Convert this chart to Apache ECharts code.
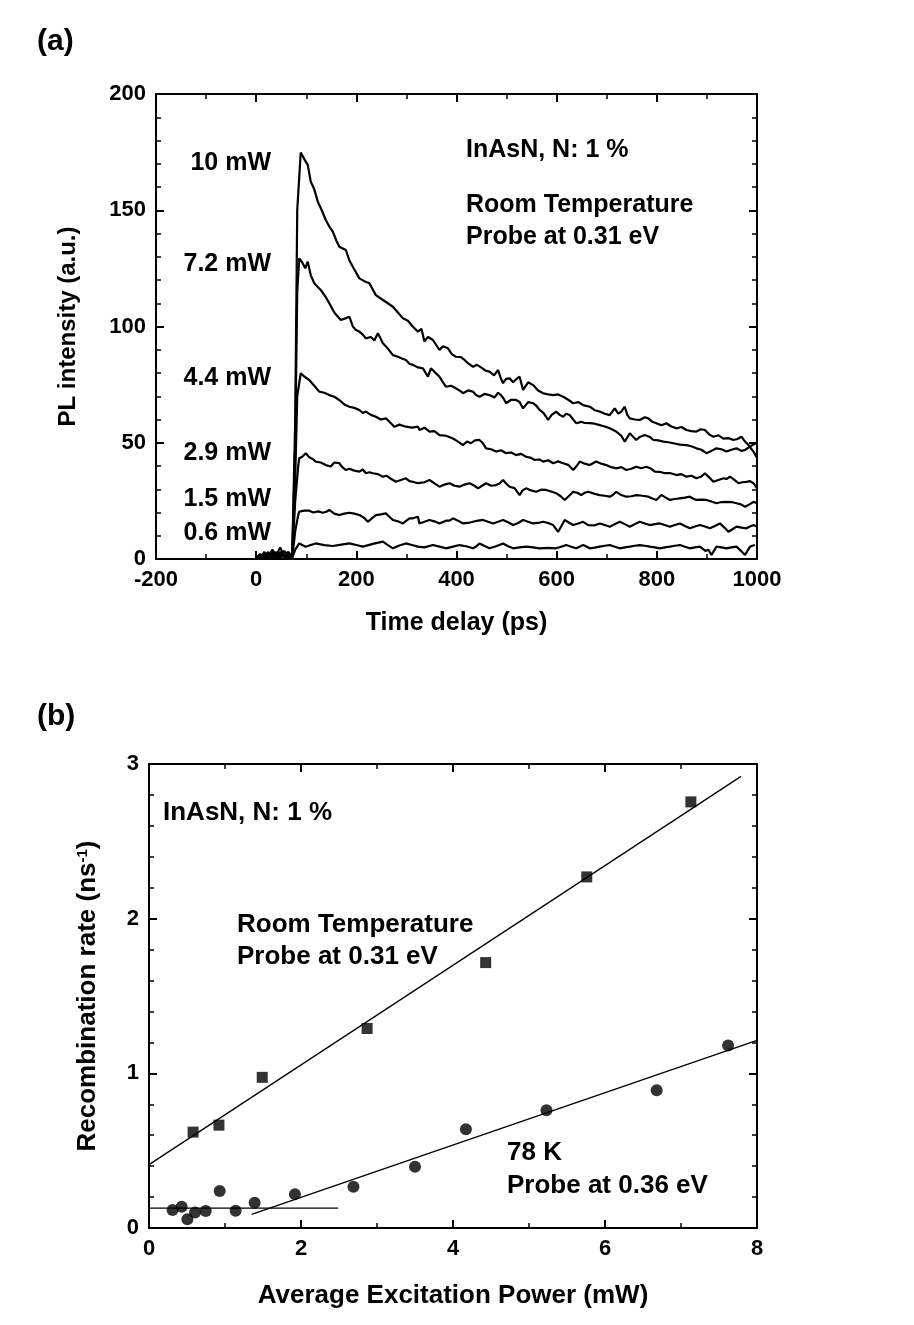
<!DOCTYPE html>
<html>
<head>
<meta charset="utf-8">
<script src="https://cdn.jsdelivr.net/npm/echarts@6/dist/echarts.min.js"></script>
<style>
html,body{margin:0;padding:0;background:#fff;}
#chart{width:914px;height:1325px;}
</style>
</head>
<body>
<div id="chart"></div>
<script>
// ---------- Panel (a): PL transients, [time delay (ps), PL intensity (a.u.)] ----------
const curveLabels = ['10 mW', '7.2 mW', '4.4 mW', '2.9 mW', '1.5 mW', '0.6 mW'];

const pl10 = [[0,0.5],[8,2],[16,1],[24,3],[32,0.5],[40,2.5],[48,1],[56,3.5],[64,1.5],[72,2],[78,60],[82,150],[89,174.8],[96,172],[103,169.5],[109,162.3],[116,159],[123,153.7],[131,150],[139,145.8],[146,143],[153,140.8],[160,137],[166,134.3],[179,132.9],[186,128.5],[193,125.7],[206,120.7],[216,119.5],[226,118.6],[239,113.5],[253,111.4],[263,110],[273,108.5],[283,106],[293,103.5],[303,102.5],[313,99.9],[323,97.8],[330,99],[336,93.5],[343,95.5],[353,94.2],[366,89.9],[373,91.5],[383,90.6],[391,88],[399,87],[409,86.8],[416,85.6],[424,84],[433,82.7],[441,83.5],[449,82.4],[458,81],[466,80.6],[475,79],[483,81.3],[488,78],[493,75.6],[499,77.5],[506,77.7],[513,76],[520,77.5],[526,78.4],[533,72.7],[543,76],[553,74.8],[563,72.5],[573,71.3],[583,70.8],[593,70.5],[603,70.8],[613,69.8],[623,68.5],[633,67],[643,67.5],[653,66.2],[666,65.5],[676,64],[686,63.4],[696,62.5],[706,61.9],[716,64.8],[723,62.5],[729,63.4],[736,65.5],[741,62],[746,60.5],[756,60],[766,59.8],[776,61],[783,60.5],[791,59],[799,58.4],[809,57.5],[819,58.4],[829,57],[839,56.2],[849,56.8],[859,55.5],[869,55],[879,54.8],[888,55.8],[896,55.5],[905,53.5],[913,52.6],[923,53.2],[933,51.8],[943,52],[953,51.2],[961,51.6],[969,52.6],[976,50.5],[983,49],[993,46.2],[1000,43.5]];

const pl72 = [[0,1],[8,0.5],[16,2.5],[24,1],[32,3],[40,0.5],[48,2],[56,1],[64,3],[72,1],[78,50],[82,115],[86,129.3],[93,127.2],[98,125],[103,127.9],[109,122],[116,118.6],[123,117],[129,115.7],[138,113],[146,110],[156,106],[162,104.5],[169,102.8],[178,103.5],[186,104.2],[193,100],[199,98.5],[206,97.8],[213,96.5],[219,94.9],[229,95.5],[236,94],[243,97.1],[248,95],[253,92.8],[263,90.5],[273,87.7],[283,87],[291,86.2],[299,85.6],[306,84],[313,83.5],[323,82.4],[333,82],[343,78.4],[349,82],[356,80.5],[366,78.4],[373,76],[379,74.1],[389,74.5],[399,73.4],[406,72.5],[413,71.3],[423,72.5],[433,72],[439,70.5],[446,69.8],[456,71],[466,70.5],[476,69.5],[483,71.5],[489,70.5],[494,69],[499,67],[509,68.5],[519,68.4],[526,67.5],[533,64.8],[543,67.5],[553,67],[559,66],[566,64.1],[573,63],[578,61.5],[583,59.8],[590,62],[599,63.4],[606,62],[613,61.2],[619,62.5],[626,61.9],[633,60],[639,58.4],[649,59],[656,58.5],[666,58.4],[676,58.2],[686,57.6],[696,57],[706,56.2],[713,55.5],[719,54.8],[729,53],[736,50.5],[746,54.1],[753,52.5],[759,51.2],[766,52.5],[776,53.3],[786,52.5],[793,51.2],[803,51],[813,50.5],[823,50.2],[833,49.8],[846,49.2],[859,49],[869,48.5],[879,47.6],[889,47],[899,45.5],[909,46.5],[919,47.6],[929,47.2],[939,46.2],[949,47],[959,47.6],[969,46.5],[976,46.9],[986,48.3],[993,49.3],[1000,50]];

const pl44 = [[0,0.5],[8,1.5],[16,0.5],[24,2],[32,1],[40,3],[48,0.5],[56,2],[64,1],[72,1.5],[78,35],[82,70],[89,79.9],[96,78.5],[106,77],[116,74.5],[126,72],[136,71.5],[146,70.5],[156,69.8],[166,68.4],[176,66.5],[186,65.5],[196,65],[206,64.1],[213,62.8],[219,63.4],[229,62],[239,61.2],[249,60],[259,60.5],[266,59],[276,56.9],[286,57.8],[299,56.9],[311,56.5],[323,56.9],[326,55.5],[336,56.5],[346,54.8],[356,55],[366,53.3],[379,53],[393,51.8],[403,50.5],[413,49],[421,50.5],[429,49.8],[437,51],[446,51.2],[452,50],[459,47.6],[469,47.2],[479,46.2],[489,46.8],[499,45.5],[509,45.8],[519,44.7],[529,45.2],[539,44],[549,43.5],[556,42.6],[566,42.8],[573,41.9],[583,42.5],[593,41.2],[603,42],[613,41.2],[623,40.5],[633,38.3],[640,40],[646,41.9],[656,41],[666,40.4],[679,41.9],[689,41],[699,40.4],[709,39.5],[719,39],[729,39.5],[739,38.3],[749,38.8],[759,39.7],[769,39],[779,39.7],[789,38.8],[796,37.6],[806,37.5],[816,36.9],[826,37],[839,36.1],[849,36.5],[859,35.4],[869,35.8],[879,34.7],[889,35.5],[896,36.9],[905,35],[913,33.2],[923,34],[933,34.7],[940,34.5],[946,35.4],[955,34],[963,32.6],[971,33],[979,33.2],[986,33.5],[993,32.6],[1000,30.4]];

const pl29 = [[0,1],[8,0.5],[16,2],[24,0.5],[32,1.5],[40,0.5],[48,3],[56,1],[64,0.5],[72,1],[78,25],[84,40],[86,43.3],[92,44],[99,45.5],[106,43.8],[113,43],[119,41.9],[129,41.5],[139,40.4],[149,39.8],[156,41.5],[166,41.2],[172,39.5],[179,38.3],[186,38.8],[196,38],[206,37.6],[213,38.5],[219,36.9],[226,37.3],[233,36.9],[243,36.5],[253,35.4],[261,35.8],[269,34.5],[279,33.2],[289,34],[299,34.7],[306,33.5],[313,33.2],[323,32.6],[336,33],[346,34],[356,32.5],[366,31.1],[376,32],[386,32.6],[396,31.5],[406,31.1],[416,32],[426,32.6],[436,31.5],[443,30.4],[451,31.5],[459,32.6],[469,31.5],[479,31.8],[486,32.5],[493,34],[499,32.5],[506,31.1],[516,30.5],[521,29],[526,27.5],[532,29.5],[539,30.4],[549,29.5],[559,28.9],[569,29.8],[579,29.7],[589,29],[599,28.3],[608,27],[616,25.4],[624,27],[633,28.9],[641,28.5],[649,27.5],[656,28.5],[663,28.9],[666,28.3],[676,28],[686,27.5],[696,27.2],[706,26.8],[712,27.5],[719,28.9],[729,27.5],[739,26.8],[749,27],[759,27.5],[771,27.2],[783,26.8],[791,26],[799,25.4],[809,27.5],[817,26.5],[826,25.4],[836,25.8],[846,26.1],[856,26.4],[866,26.8],[872,26],[879,25.4],[889,25.5],[899,25.4],[909,24.7],[919,24],[929,24.5],[939,24.6],[949,24.5],[959,24],[968,23.5],[976,22.5],[985,23.5],[993,24.6],[1000,24]];

const pl15 = [[0,0.5],[8,2],[16,1],[24,0.5],[32,2.5],[40,1],[48,0.5],[56,2],[64,1],[72,0.5],[78,12],[84,19],[86,20.4],[96,20.8],[106,20.8],[114,20],[124,20.5],[133,19.9],[140,20.3],[146,21.1],[156,19.5],[166,18.9],[176,19.5],[186,19.9],[196,19.5],[206,18.9],[215,17.8],[223,16],[231,17.5],[239,18.9],[249,19.2],[259,19.6],[266,18.2],[273,16.8],[283,16.2],[293,15.3],[300,16.5],[306,17.5],[313,17.5],[323,18.2],[326,15.3],[336,16],[346,16.8],[356,16.2],[366,15.3],[379,16.5],[386,16.5],[393,17.5],[403,16.5],[413,15.3],[423,15.5],[433,16],[443,16.5],[453,16.8],[463,16],[473,15.3],[483,16],[493,16.8],[503,15.8],[513,14.6],[523,15.5],[533,16.8],[543,16],[553,15.3],[563,15.5],[573,16],[583,15.5],[593,14.6],[603,11.7],[609,14],[616,16.8],[624,15.7],[633,14.6],[643,15.3],[653,16],[663,14.6],[666,13.9],[676,14.5],[686,15.3],[696,14.6],[706,13.9],[716,15],[726,16],[736,15],[746,13.9],[756,15],[766,16],[776,15.3],[786,14.6],[796,15],[806,15.3],[816,14.6],[826,13.9],[836,14.6],[846,15.3],[856,14.2],[866,13.2],[876,14],[886,14.6],[896,14],[906,13.2],[916,14.2],[926,15.3],[935,13.5],[943,11.7],[951,12.8],[959,13.9],[969,13.5],[979,13.2],[986,14],[993,14.6],[1000,13.9]];

const pl06 = [[0,1.5],[8,0.5],[16,3],[24,1],[32,4],[40,1.5],[48,5],[56,1],[64,3],[72,0.5],[78,4],[86,6.7],[92,6],[99,5.3],[109,6],[119,6.7],[136,6],[153,5.6],[170,6.2],[186,6.7],[200,6],[213,5.3],[233,6.5],[253,7.5],[263,6],[273,4.6],[286,5.8],[299,6.7],[311,6],[323,5.3],[336,5],[353,6],[366,5.3],[379,4.6],[393,5.3],[406,6],[419,5.5],[433,4.6],[440,5.5],[446,6.7],[456,5.6],[466,4.6],[479,5.5],[493,6.7],[503,5.5],[513,4.6],[526,5],[539,5.3],[553,5],[566,4.6],[583,4.8],[599,4.6],[609,5.3],[619,6],[629,5.3],[639,4.6],[653,6],[666,4.6],[676,4.9],[686,5.3],[696,5.7],[706,6],[716,5.3],[726,4.6],[736,5],[746,5.3],[756,5.7],[766,6],[776,5.7],[786,5.3],[796,5],[806,4.6],[816,5],[826,5.3],[836,5.7],[846,6],[856,5.3],[866,4.6],[876,5],[886,5.3],[897,3.5],[903,4],[909,1.7],[914,3.5],[919,5.3],[929,5],[939,4.6],[949,5],[959,5.3],[968,3.5],[976,1.7],[981,3.5],[986,5.3],[991,5.7],[996,6]];

const plCurves = [pl10, pl72, pl44, pl29, pl15, pl06];

// ---------- Panel (b): recombination rate vs power ----------
const rtPower = [0.58, 0.92, 1.49, 2.87, 4.43, 5.76, 7.13];
const rtRate  = [0.62, 0.665, 0.974, 1.29, 1.716, 2.27, 2.755];
const k78Power = [0.31, 0.43, 0.505, 0.606, 0.747, 0.93, 1.14, 1.39, 1.92, 2.69, 3.50, 4.17, 5.23, 6.68, 7.62];
const k78Rate  = [0.116, 0.137, 0.056, 0.10, 0.11, 0.239, 0.112, 0.163, 0.219, 0.267, 0.396, 0.639, 0.761, 0.89, 1.18];
const rtFit = [[0, 0.41], [7.79, 2.92]];
const k78FitLow = [[0, 0.129], [2.49, 0.129]];
const k78FitHigh = [[1.35, 0.088], [8, 1.213]];

// tick settings
const aXTicks = {min: -200, max: 1000, interval: 200};
const aYTicks = {min: 0, max: 200, interval: 50};
const bXTicks = {min: 0, max: 8, interval: 2};
const bYTicks = {min: 0, max: 3, interval: 1};

const FONT = '"Liberation Sans", Arial, Helvetica, sans-serif';
const chart = echarts.init(document.getElementById('chart'), null, {renderer: 'canvas'});

function axisBase(t, minorSplit, showLabel, pos, grid) {
  return {
    type: 'value', gridIndex: grid, position: pos,
    min: t.min, max: t.max, interval: t.interval,
    axisLine: {show: true, onZero: false, lineStyle: {color: '#000', width: 2}},
    axisTick: {show: true, inside: true, length: 8, lineStyle: {color: '#000', width: 2}},
    minorTick: {show: true, splitNumber: minorSplit, length: 5, lineStyle: {color: '#000', width: 1.5}},
    splitLine: {show: false},
    axisLabel: {show: showLabel, color: '#000', fontFamily: FONT, fontWeight: 'bold', fontSize: 22, margin: 10,
                formatter: v => String(v)},
  };
}

const series = [];
plCurves.forEach((d, i) => {
  series.push({
    type: 'line', name: curveLabels[i], xAxisIndex: 0, yAxisIndex: 0, data: d,
    showSymbol: false, symbol: 'none', lineStyle: {color: '#000', width: 2.2}, z: 3
  });
});
series.push({
  type: 'scatter', xAxisIndex: 2, yAxisIndex: 2, symbol: 'rect', symbolSize: 11,
  itemStyle: {color: '#000'}, data: rtPower.map((p, i) => [p, rtRate[i]]), z: 4
});
series.push({
  type: 'scatter', xAxisIndex: 2, yAxisIndex: 2, symbol: 'circle', symbolSize: 12,
  itemStyle: {color: '#000'}, data: k78Power.map((p, i) => [p, k78Rate[i]]), z: 4
});
[rtFit, k78FitLow, k78FitHigh].forEach(d => {
  series.push({
    type: 'line', xAxisIndex: 2, yAxisIndex: 2, data: d, showSymbol: false, symbol: 'none',
    lineStyle: {color: '#000', width: 1.3}, z: 3
  });
});

function txt(text, x, y, size, align) {
  return {
    type: 'text', x: x, y: y, z: 10,
    style: {text: text, fill: '#000', font: 'bold ' + size + 'px ' + FONT,
            align: align || 'left', verticalAlign: 'middle',
            textAlign: align || 'left', textVerticalAlign: 'middle'}
  };
}

const titleStyle = size => ({color: '#000', fontFamily: FONT, fontWeight: 'bold', fontSize: size});

const option = {
  backgroundColor: '#fff',
  animation: false,
  grid: [
    {left: 156, top: 94, width: 601, height: 465, containLabel: false},
    {left: 149, top: 764, width: 608, height: 464, containLabel: false}
  ],
  xAxis: [
    Object.assign(axisBase(aXTicks, 2, true, 'bottom', 0), {
      name: 'Time delay (ps)', nameLocation: 'middle', nameGap: 52, nameTextStyle: titleStyle(25)
    }),
    axisBase(aXTicks, 2, false, 'top', 0),
    Object.assign(axisBase(bXTicks, 2, true, 'bottom', 1), {
      name: 'Average Excitation Power (mW)', nameLocation: 'middle', nameGap: 55, nameTextStyle: titleStyle(26)
    }),
    axisBase(bXTicks, 2, false, 'top', 1)
  ],
  yAxis: [
    Object.assign(axisBase(aYTicks, 5, true, 'left', 0), {
      name: 'PL intensity (a.u.)', nameLocation: 'middle', nameGap: 76, nameTextStyle: titleStyle(24)
    }),
    axisBase(aYTicks, 5, false, 'right', 0),
    Object.assign(axisBase(bYTicks, 5, true, 'left', 1), {
      name: 'Recombination rate (ns{sup|-1})', nameLocation: 'middle', nameGap: 48,
      nameTextStyle: Object.assign(titleStyle(26), {
        rich: {sup: {fontFamily: FONT, fontWeight: 'bold', fontSize: 15, verticalAlign: 'top', color: '#000'}}})
    }),
    axisBase(bYTicks, 5, false, 'right', 1)
  ],
  series: series,
  graphic: [
    txt('(a)', 37, 42, 30),
    txt('(b)', 37, 717, 30),
    txt('InAsN, N: 1 %', 466, 150, 25),
    txt('Room Temperature', 466, 205, 25),
    txt('Probe at 0.31 eV', 466, 237, 25),
    txt(curveLabels[0], 271, 163, 25, 'right'),
    txt(curveLabels[1], 271, 264, 25, 'right'),
    txt(curveLabels[2], 271, 378, 25, 'right'),
    txt(curveLabels[3], 271, 453, 25, 'right'),
    txt(curveLabels[4], 271, 499, 25, 'right'),
    txt(curveLabels[5], 271, 533, 25, 'right'),
    txt('InAsN, N: 1 %', 163, 813, 26),
    txt('Room Temperature', 237, 925, 26),
    txt('Probe at 0.31 eV', 237, 957, 26),
    txt('78 K', 507, 1153, 26),
    txt('Probe at 0.36 eV', 507, 1186, 26)
  ]
};
chart.setOption(option);
</script>
</body>
</html>
